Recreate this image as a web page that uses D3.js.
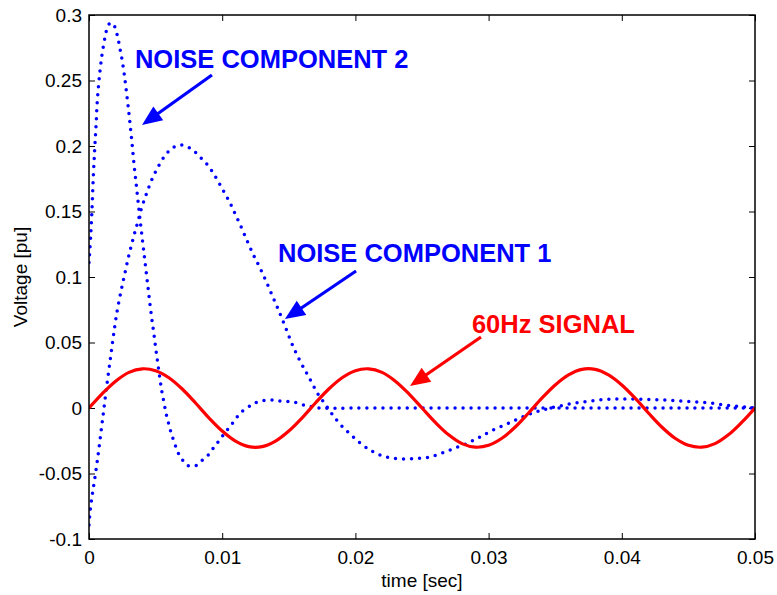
<!DOCTYPE html>
<html>
<head>
<meta charset="utf-8">
<script src="https://cdn.jsdelivr.net/npm/d3@7"></script>
<style>
  html, body { margin: 0; padding: 0; background: #fff; }
  svg { display: block; font-family: "Liberation Sans", Arial, Helvetica, sans-serif; }
</style>
</head>
<body>
<svg id="chart" width="777" height="595"></svg>
<script>
// ---- 60 Hz signal, one sample per millisecond ----
const signalTime = [0, 0.001, 0.002, 0.003, 0.004, 0.005, 0.006, 0.007, 0.008, 0.009,
  0.010, 0.011, 0.012, 0.013, 0.014, 0.015, 0.016, 0.017, 0.018, 0.019,
  0.020, 0.021, 0.022, 0.023, 0.024, 0.025, 0.026, 0.027, 0.028, 0.029,
  0.030, 0.031, 0.032, 0.033, 0.034, 0.035, 0.036, 0.037, 0.038, 0.039,
  0.040, 0.041, 0.042, 0.043, 0.044, 0.045, 0.046, 0.047, 0.048, 0.049, 0.050];
const signalVolts = [0, 0.0110, 0.0205, 0.0272, 0.0299, 0.0285, 0.0231, 0.0145, 0.0038, -0.0075,
  -0.0176, -0.0253, -0.0295, -0.0295, -0.0253, -0.0176, -0.0075, 0.0038, 0.0145, 0.0231,
  0.0285, 0.0299, 0.0272, 0.0205, 0.0110, 0, -0.0110, -0.0205, -0.0272, -0.0299,
  -0.0285, -0.0231, -0.0145, -0.0038, 0.0075, 0.0176, 0.0253, 0.0295, 0.0295, 0.0253,
  0.0176, 0.0075, -0.0038, -0.0145, -0.0231, -0.0285, -0.0299, -0.0272, -0.0205, -0.0110, 0];

// ---- noise component 1 (slow decaying oscillation) ----
const noise1Time = [0, 0.00008, 0.00019, 0.00030, 0.00045, 0.00060, 0.00075, 0.00090, 0.00105, 0.00120,
  0.00135, 0.00150, 0.00165, 0.00180, 0.00195, 0.00210, 0.00233, 0.00255, 0.00278, 0.00300,
  0.00323, 0.00345, 0.00368, 0.00390, 0.00420, 0.00450, 0.00480, 0.00511, 0.00548, 0.00593,
  0.00638, 0.00691, 0.00743, 0.00788, 0.00833, 0.00878, 0.00923, 0.00968, 0.01014, 0.01059,
  0.01104, 0.01149, 0.01194, 0.01239, 0.01284, 0.01329, 0.01374, 0.01419, 0.01471, 0.01524,
  0.01584, 0.01629, 0.01674, 0.01719, 0.01772, 0.01824, 0.01884, 0.01959, 0.02035, 0.02110,
  0.02185, 0.02275, 0.02372, 0.02470, 0.02560, 0.02650, 0.02748, 0.02845, 0.02935, 0.03033,
  0.03138, 0.03236, 0.03333, 0.03431, 0.03536, 0.03649, 0.03761, 0.03874, 0.03986, 0.04099,
  0.04212, 0.04324, 0.04437, 0.04550, 0.04662, 0.04775, 0.04887, 0.05000];
const noise1Volts = [-0.0893, -0.0794, -0.0702, -0.0626, -0.0527, -0.0420, -0.0305, -0.0183, -0.0061, 0.0061,
  0.0183, 0.0298, 0.0412, 0.0527, 0.0634, 0.0733, 0.0855, 0.0962, 0.1069, 0.1168,
  0.1260, 0.1344, 0.1427, 0.1511, 0.1603, 0.1687, 0.1763, 0.1824, 0.1893, 0.1954,
  0.1992, 0.2008, 0.1992, 0.1962, 0.1916, 0.1870, 0.1809, 0.1733, 0.1649, 0.1565,
  0.1466, 0.1366, 0.1260, 0.1160, 0.1069, 0.0969, 0.0863, 0.0756, 0.0626, 0.0489,
  0.0359, 0.0275, 0.0191, 0.0107, 0.0031, -0.0046, -0.0122, -0.0198, -0.0267, -0.0321,
  -0.0359, -0.0382, -0.0389, -0.0385, -0.0374, -0.0344, -0.0305, -0.0267, -0.0221, -0.0168,
  -0.0122, -0.0076, -0.0038, -0.0008, 0.0015, 0.0038, 0.0053, 0.0065, 0.0069, 0.0069,
  0.0065, 0.0061, 0.0053, 0.0046, 0.0038, 0.0023, 0.0011, 0.0000];

// ---- noise component 2 (fast, heavily damped oscillation) ----
const noise2Time = [0, 0.00013, 0.00023, 0.00032, 0.00043, 0.00053, 0.00062, 0.00077, 0.00090, 0.00098,
  0.00118, 0.00128, 0.00143, 0.00165, 0.00188, 0.00203, 0.00218, 0.00233, 0.00248, 0.00263,
  0.00278, 0.00293, 0.00308, 0.00323, 0.00338, 0.00353, 0.00368, 0.00383, 0.00398, 0.00413,
  0.00428, 0.00443, 0.00458, 0.00473, 0.00488, 0.00503, 0.00518, 0.00533, 0.00548, 0.00563,
  0.00578, 0.00593, 0.00608, 0.00623, 0.00646, 0.00668, 0.00691, 0.00713, 0.00743, 0.00773,
  0.00803, 0.00848, 0.00886, 0.00923, 0.00961, 0.00998, 0.01036, 0.01074, 0.01104, 0.01134,
  0.01186, 0.01231, 0.01276, 0.01336, 0.01396, 0.01449, 0.01509, 0.01562, 0.01622, 0.01674,
  0.01719, 0.0200, 0.0250, 0.0300, 0.0350, 0.0400, 0.0450, 0.0500];
const noise2Volts = [0.111, 0.132, 0.153, 0.176, 0.198, 0.216, 0.234, 0.252, 0.264, 0.270,
  0.282, 0.287, 0.292, 0.294, 0.292, 0.288, 0.282, 0.274, 0.266, 0.256,
  0.244, 0.231, 0.217, 0.202, 0.186, 0.172, 0.158, 0.144, 0.131, 0.118,
  0.105, 0.092, 0.079, 0.067, 0.056, 0.044, 0.033, 0.022, 0.012, 0.004,
  -0.004, -0.010, -0.016, -0.021, -0.028, -0.034, -0.038, -0.041, -0.044, -0.044,
  -0.044, -0.040, -0.037, -0.032, -0.027, -0.022, -0.017, -0.012, -0.008, -0.004,
  0.000, 0.003, 0.005, 0.006, 0.006, 0.005, 0.005, 0.004, 0.002, 0.001,
  0.000, 0, 0, 0, 0, 0, 0, 0];

// ---- axes ----
const xTicks = [0, 0.01, 0.02, 0.03, 0.04, 0.05];
const xTickLabels = ["0", "0.01", "0.02", "0.03", "0.04", "0.05"];
const yTicks = [-0.1, -0.05, 0, 0.05, 0.1, 0.15, 0.2, 0.25, 0.3];
const yTickLabels = ["-0.1", "-0.05", "0", "0.05", "0.1", "0.15", "0.2", "0.25", "0.3"];

// ---- callouts, in (time, volts) ----
const calloutLabels = ["NOISE COMPONENT 2", "NOISE COMPONENT 1", "60Hz SIGNAL"];
const calloutText = [[0.00345, 0.2595], [0.01419, 0.1115], [0.02875, 0.0573]];
const calloutTail = [[0.00923, 0.2542], [0.02005, 0.1046], [0.02943, 0.0542]];
const calloutTip  = [[0.00398, 0.2160], [0.01471, 0.0679], [0.02410, 0.0168]];

// ---- layout ----
const plot = { left: 89, right: 755, top: 15, bottom: 539 };
const BLUE = "#0000ff", RED = "#ff0000";
const calloutColors = [BLUE, BLUE, RED];

const svg = d3.select("#chart");
const x = d3.scaleLinear().domain([0, 0.05]).range([plot.left, plot.right]);
const y = d3.scaleLinear().domain([-0.1, 0.3]).range([plot.bottom, plot.top]);

svg.append("rect").attr("width", 777).attr("height", 595).attr("fill", "#fff");

svg.append("defs").append("clipPath").attr("id", "plotClip")
  .append("rect")
  .attr("x", plot.left).attr("y", plot.top - 2)
  .attr("width", plot.right - plot.left).attr("height", plot.bottom - plot.top + 2);

// tick marks point inward on all four sides
const tickLen = 6;
const xi = (v) => xTickLabels[xTicks.indexOf(v)];
const yi = (v) => yTickLabels[yTicks.findIndex(t => Math.abs(t - v) < 1e-9)];

const axisB = d3.axisBottom(x).tickValues(xTicks).tickFormat(xi)
  .tickSizeInner(-tickLen).tickSizeOuter(0).tickPadding(12);
const axisT = d3.axisTop(x).tickValues(xTicks).tickFormat("")
  .tickSizeInner(-tickLen).tickSizeOuter(0);
const axisL = d3.axisLeft(y).tickValues(yTicks).tickFormat(yi)
  .tickSizeInner(-tickLen).tickSizeOuter(0).tickPadding(7);
const axisR = d3.axisRight(y).tickValues(yTicks).tickFormat("")
  .tickSizeInner(-tickLen).tickSizeOuter(0);

function styleAxis(g) {
  g.select(".domain").remove();
  g.selectAll(".tick line").attr("stroke", "#000").attr("stroke-width", 1);
  g.selectAll(".tick text").attr("fill", "#000")
    .style("font-size", "19px").style("font-family", '"Liberation Sans", Arial, sans-serif');
}

svg.append("g").attr("transform", `translate(0,${plot.bottom})`).call(axisB).call(styleAxis);
svg.append("g").attr("transform", `translate(0,${plot.top})`).call(axisT).call(styleAxis);
svg.append("g").attr("transform", `translate(${plot.left},0)`).call(axisL).call(styleAxis);
svg.append("g").attr("transform", `translate(${plot.right},0)`).call(axisR).call(styleAxis);

// ---- curves ----
const line = d3.line()
  .x(d => x(d[0])).y(d => y(d[1]))
  .curve(d3.curveCatmullRom.alpha(0.5));

const curves = svg.append("g").attr("clip-path", "url(#plotClip)");

[[noise1Time, noise1Volts], [noise2Time, noise2Volts]].forEach(([t, v]) => {
  curves.append("path")
    .attr("d", line(d3.zip(t, v)))
    .attr("fill", "none").attr("stroke", BLUE)
    .attr("stroke-width", 3.5).attr("stroke-linecap", "round")
    .attr("stroke-dasharray", "0 8");
});

curves.append("path")
  .attr("d", line(d3.zip(signalTime, signalVolts)))
  .attr("fill", "none").attr("stroke", RED)
  .attr("stroke-width", 3.2).attr("stroke-linejoin", "round");

// ---- plot box ----
svg.append("rect")
  .attr("x", plot.left).attr("y", plot.top)
  .attr("width", plot.right - plot.left).attr("height", plot.bottom - plot.top)
  .attr("fill", "none").attr("stroke", "#000").attr("stroke-width", 1.5);

// ---- callouts with arrows ----
const headLen = 20, headHalf = 8.5;
calloutLabels.forEach((label, i) => {
  const col = calloutColors[i];
  const g = svg.append("g");
  const tx = x(calloutTail[i][0]), ty = y(calloutTail[i][1]);
  const px = x(calloutTip[i][0]), py = y(calloutTip[i][1]);
  const dx = px - tx, dy = py - ty, L = Math.hypot(dx, dy);
  const ux = dx / L, uy = dy / L;
  const bx = px - ux * headLen, by = py - uy * headLen;
  g.append("line")
    .attr("x1", tx).attr("y1", ty).attr("x2", bx + ux * 2).attr("y2", by + uy * 2)
    .attr("stroke", col).attr("stroke-width", 3.2);
  g.append("path")
    .attr("d", `M${px},${py}L${bx - uy * headHalf},${by + ux * headHalf}L${bx + uy * headHalf},${by - ux * headHalf}Z`)
    .attr("fill", col);
  g.append("text")
    .attr("x", x(calloutText[i][0])).attr("y", y(calloutText[i][1]))
    .attr("fill", col)
    .style("font-size", "25.5px").style("font-weight", "bold")
    .text(label);
});

// ---- axis titles ----
svg.append("text")
  .attr("x", (plot.left + plot.right) / 2).attr("y", 587)
  .attr("text-anchor", "middle").attr("fill", "#000")
  .style("font-size", "19px")
  .text("time [sec]");

svg.append("text")
  .attr("transform", `translate(27,${(plot.top + plot.bottom) / 2}) rotate(-90)`)
  .attr("text-anchor", "middle").attr("fill", "#000")
  .style("font-size", "19px")
  .text("Voltage [pu]");
</script>
</body>
</html>
